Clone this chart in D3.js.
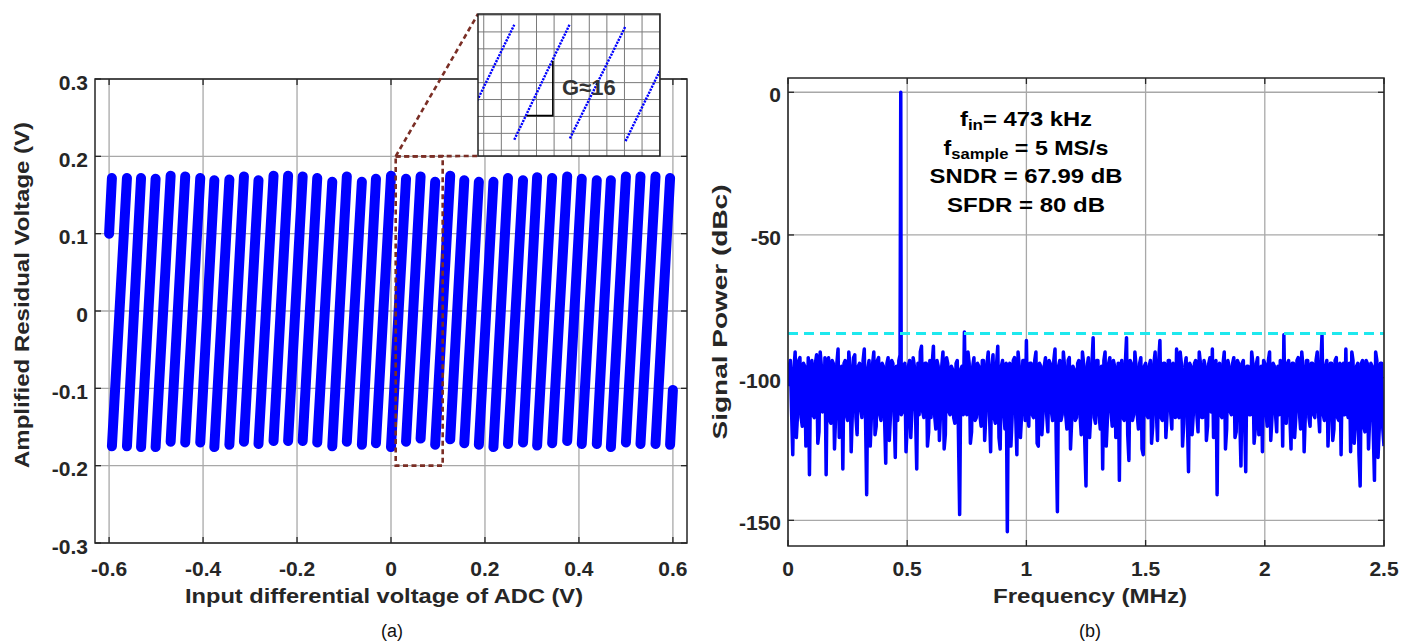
<!DOCTYPE html>
<html>
<head>
<meta charset="utf-8">
<script src="https://cdn.jsdelivr.net/npm/d3@7"></script>
<style>
  body { margin: 0; background: #fff; }
  text { font-family: "Liberation Sans", Arial, Helvetica, sans-serif; }
</style>
</head>
<body>
<div id="fig"></div>
<script>
// ---------- panel (a) : amplified residue vs input ----------
// input voltages (V) where the residue wraps from top back to bottom
var wrapV = [-0.594, -0.562, -0.532, -0.501, -0.469, -0.438, -0.406, -0.376, -0.344, -0.313,
             -0.282, -0.250, -0.219, -0.188, -0.157, -0.125, -0.094, -0.062, -0.032, 0.000,
              0.032, 0.063, 0.094, 0.126, 0.156, 0.187, 0.218, 0.249, 0.281, 0.311,
              0.343, 0.375, 0.406, 0.438, 0.468, 0.500, 0.531, 0.563, 0.594];
// residue at the start (low end) of each ramp, first and last ramps are partial
var rampLow = [0.100,
  -0.175, -0.175, -0.176, -0.176, -0.169, -0.170, -0.170, -0.176, -0.173, -0.169,
  -0.172, -0.168, -0.168, -0.168, -0.170, -0.175, -0.169, -0.173, -0.171, -0.176,
  -0.169, -0.165, -0.173, -0.166, -0.171, -0.173, -0.176, -0.172, -0.170, -0.174,
  -0.171, -0.168, -0.172, -0.172, -0.176, -0.170, -0.172, -0.172,
  -0.173];
// residue at the end (high end) of each ramp
var rampHigh = [0.172,
   0.172, 0.172, 0.171, 0.175, 0.174, 0.172, 0.169, 0.170, 0.174, 0.169,
   0.175, 0.175, 0.174, 0.172, 0.167, 0.174, 0.167, 0.171, 0.175, 0.171,
   0.174, 0.167, 0.175, 0.169, 0.167, 0.167, 0.172, 0.169, 0.173, 0.172,
   0.174, 0.171, 0.169, 0.169, 0.174, 0.174, 0.174, 0.172,
  -0.102];
var inputRange = [-0.6, 0.6];
var residueXTicks = [-0.6, -0.4, -0.2, 0, 0.2, 0.4, 0.6];
var residueYTicks = [-0.3, -0.2, -0.1, 0, 0.1, 0.2, 0.3];
var zoomWindow = {x: [0.01, 0.11], y: [-0.2, 0.2]};
var gainLabel = "G\u224816";

// ---------- panel (b) : output spectrum ----------
var binStep = 0.005; // MHz between the plotted bins, one row = 0.1 MHz
var noiseDb = [
  -103, -96, -94, -112, -127, -97, -91, -121, -113, -94, -93, -114, -117, -95, -96, -124, -112, -93, -134, -97,
  -94, -113, -114, -95, -92, -123, -119, -91, -96, -112, -111, -93, -134, -96, -93, -115, -116, -94, -95, -125,
  -113, -95, -90, -121, -118, -96, -132, -95, -94, -113, -115, -91, -96, -126, -112, -93, -92, -114, -120, -96,
  -95, -111, -114, -94, -90, -113, -141, -97, -94, -124, -113, -95, -91, -120, -117, -94, -93, -113, -115, -95,
  -96, -114, -130, -95, -93, -122, -113, -94, -95, -112, -128, -96, -115, -94, -92, -113, -112, -96, -95, -126,
  -117, -96, -94, -121, -111, -93, -96, -113, -132, -95, -113, -91, -89, -112, -114, -95, -95, -124, -119, -94,
  -114, -95, -89, -113, -118, -94, -96, -122, -112, -96, -91, -125, -120, -93, -95, -112, -113, -96, -97, -114,
  -116, -95, -94, -120, -148, -97, -96, -113, -84, -111, -113, -91, -95, -123, -119, -96, -93, -115, -114, -95,
  -96, -113, -117, -94, -94, -122, -113, -95, -91, -112, -126, -96, -92, -114, -116, -95, -89, -121, -125, -96,
  -94, -112, -118, -95, -154, -96, -95, -124, -114, -94, -93, -113, -127, -91, -96, -121, -113, -94, -94, -115,
  -87, -113, -117, -95, -95, -113, -114, -94, -91, -123, -124, -95, -96, -120, -112, -96, -93, -113, -119, -94,
  -95, -112, -115, -94, -90, -122, -147, -96, -94, -115, -113, -91, -96, -113, -118, -94, -93, -125, -115, -96,
  -97, -115, -114, -95, -94, -113, -120, -91, -95, -123, -138, -96, -93, -121, -113, -95, -86, -114, -116, -94,
  -94, -113, -118, -96, -132, -94, -91, -124, -114, -95, -93, -112, -117, -94, -96, -121, -113, -95, -136, -96,
  -94, -114, -115, -95, -86, -120, -129, -94, -95, -115, -113, -91, -96, -113, -118, -95, -93, -125, -127, -96,
  -95, -113, -114, -96, -94, -123, -117, -95, -91, -112, -122, -94, -87, -114, -115, -95, -95, -121, -113, -94,
  -94, -112, -118, -95, -96, -114, -90, -113, -114, -91, -95, -124, -116, -96, -93, -113, -133, -95, -96, -120,
  -113, -95, -94, -113, -119, -91, -95, -114, -114, -94, -96, -122, -117, -95, -93, -112, -90, -121, -115, -94,
  -141, -96, -95, -113, -114, -95, -91, -125, -118, -94, -96, -112, -113, -95, -93, -121, -119, -94, -95, -114,
  -131, -95, -94, -114, -133, -96, -96, -113, -113, -91, -95, -123, -118, -95, -93, -120, -115, -96, -126, -94,
  -95, -112, -117, -94, -91, -122, -114, -95, -96, -113, -119, -96, -113, -94, -96, -124, -85, -112, -116, -95,
  -94, -113, -125, -95, -95, -121, -114, -94, -93, -112, -118, -91, -96, -126, -113, -94, -94, -114, -117, -95,
  -95, -113, -114, -94, -91, -112, -119, -95, -85, -113, -115, -96, -94, -124, -113, -95, -95, -122, -118, -94,
  -93, -114, -115, -95, -127, -96, -95, -113, -90, -112, -114, -95, -126, -91, -94, -123, -117, -96, -95, -127,
  -138, -95, -94, -117, -119, -94, -95, -125, -114, -95, -96, -119, -136, -91, -94, -128, -118, -95, -95, -118,
  -124];
var toneFreq = 0.473;   // MHz
var tonePower = 0;      // dBc
var sfdrLine = -84.5;   // dBc
var freqTicks = [0, 0.5, 1, 1.5, 2, 2.5];
var powerTicks = [-150, -100, -50, 0];
var specNotes = [
  {main: "f", sub: "in", rest: "= 473 kHz", len: 132},
  {main: "f", sub: "sample", rest: " = 5 MS/s", len: 165},
  {main: "SNDR = 67.99 dB", sub: "", rest: "", len: 193},
  {main: "SFDR = 80 dB", sub: "", rest: "", len: 158}
];

var ink = "#262626";
var gridCol = "#a8a8a8";
var blue = "#0000ff";

var svg = d3.select("#fig").append("svg")
    .attr("width", 1406)
    .attr("height", 641)
    .style("background", "#fff");

function fmt(d) {
  return d === 0 ? "0" : String(+d.toFixed(2));
}

// grid, inward ticks and box for one axes
function frame(g, xs, ys, xt, yt, tick) {
  var l = xs.range()[0], r = xs.range()[1], b = ys.range()[0], t = ys.range()[1];
  g.selectAll(null).data(xt).enter().append("line")
    .attr("x1", d => xs(d)).attr("x2", d => xs(d))
    .attr("y1", t).attr("y2", b)
    .attr("stroke", gridCol).attr("stroke-width", 1.3);
  g.selectAll(null).data(yt).enter().append("line")
    .attr("x1", l).attr("x2", r)
    .attr("y1", d => ys(d)).attr("y2", d => ys(d))
    .attr("stroke", gridCol).attr("stroke-width", 1.3);
  xt.forEach(function (d) {
    g.append("line").attr("x1", xs(d)).attr("x2", xs(d)).attr("y1", b).attr("y2", b - tick)
      .attr("stroke", ink).attr("stroke-width", 1.3);
    g.append("line").attr("x1", xs(d)).attr("x2", xs(d)).attr("y1", t).attr("y2", t + tick)
      .attr("stroke", ink).attr("stroke-width", 1.3);
  });
  yt.forEach(function (d) {
    g.append("line").attr("x1", l).attr("x2", l + tick).attr("y1", ys(d)).attr("y2", ys(d))
      .attr("stroke", ink).attr("stroke-width", 1.3);
    g.append("line").attr("x1", r).attr("x2", r - tick).attr("y1", ys(d)).attr("y2", ys(d))
      .attr("stroke", ink).attr("stroke-width", 1.3);
  });
}

function box(g, xs, ys, col, w) {
  g.append("rect")
    .attr("x", xs.range()[0]).attr("y", ys.range()[1])
    .attr("width", xs.range()[1] - xs.range()[0])
    .attr("height", ys.range()[0] - ys.range()[1])
    .attr("fill", "none").attr("stroke", col).attr("stroke-width", w);
}

function tickLabels(g, xs, ys, xt, yt, xBase, yDy) {
  g.selectAll(null).data(xt).enter().append("text")
    .attr("x", d => xs(d)).attr("y", xBase)
    .attr("text-anchor", "middle")
    .attr("font-size", 21).attr("font-weight", "bold").attr("fill", ink)
    .text(fmt);
  g.selectAll(null).data(yt).enter().append("text")
    .attr("x", xs.range()[0] - 7).attr("y", d => ys(d))
    .attr("dy", yDy)
    .attr("text-anchor", "end")
    .attr("font-size", 21).attr("font-weight", "bold").attr("fill", ink)
    .text(fmt);
}

// ================= panel (a) =================
var ga = svg.append("g");
var x = d3.scaleLinear().domain([-0.63, 0.63]).range([95, 687]);
var y = d3.scaleLinear().domain([-0.3, 0.3]).range([543, 79]);

frame(ga, x, y, residueXTicks, residueYTicks, 6);

var rampFrom = [inputRange[0]].concat(wrapV);
var rampTo = wrapV.concat([inputRange[1]]);
var ramps = rampFrom.map(function (v, i) {
  return {x0: v, x1: rampTo[i], y0: rampLow[i], y1: rampHigh[i]};
});

ga.selectAll(".ramp").data(ramps).enter().append("line")
  .attr("class", "ramp")
  .attr("x1", d => x(d.x0)).attr("y1", d => y(d.y0))
  .attr("x2", d => x(d.x1)).attr("y2", d => y(d.y1))
  .attr("stroke", blue).attr("stroke-width", 10)
  .attr("stroke-linecap", "round");

box(ga, x, y, ink, 1.5);
tickLabels(ga, x, y, residueXTicks, residueYTicks, 576, "0.5em");

ga.append("text")
  .attr("x", 384).attr("y", 603)
  .attr("text-anchor", "middle")
  .attr("font-size", 21).attr("font-weight", "bold").attr("fill", ink)
  .attr("textLength", 398).attr("lengthAdjust", "spacingAndGlyphs")
  .text("Input differential voltage of ADC (V)");

ga.append("text")
  .attr("transform", "translate(29,295) rotate(-90)")
  .attr("text-anchor", "middle")
  .attr("font-size", 21).attr("font-weight", "bold").attr("fill", ink)
  .attr("textLength", 346).attr("lengthAdjust", "spacingAndGlyphs")
  .text("Amplified Residual Voltage (V)");

ga.append("text")
  .attr("x", 392).attr("y", 637)
  .attr("text-anchor", "middle")
  .attr("font-size", 18).attr("fill", "#111")
  .text("(a)");

// zoom window and connectors
var brown = "#7a2e25";
var zx0 = x(zoomWindow.x[0]), zx1 = x(zoomWindow.x[1]);
var zy0 = y(zoomWindow.y[1]), zy1 = y(zoomWindow.y[0]);
var inL = 478, inR = 660, inT = 14, inB = 156;

ga.append("rect")
  .attr("x", zx0).attr("y", zy0)
  .attr("width", zx1 - zx0).attr("height", zy1 - zy0)
  .attr("fill", "none").attr("stroke", brown).attr("stroke-width", 2.6)
  .attr("stroke-dasharray", "5,3.5");
ga.append("line")
  .attr("x1", zx0).attr("y1", zy0).attr("x2", inL).attr("y2", inT)
  .attr("stroke", brown).attr("stroke-width", 2.6).attr("stroke-dasharray", "5,3.5");
ga.append("line")
  .attr("x1", zx0).attr("y1", zy0).attr("x2", inL).attr("y2", inB)
  .attr("stroke", brown).attr("stroke-width", 2.6).attr("stroke-dasharray", "5,3.5");

// inset
var gi = svg.append("g");
var ix = d3.scaleLinear().domain([0.0118, 0.1132]).range([inL, inR]);
var iy = d3.scaleLinear().domain([-0.217, 0.203]).range([inB, inT]);
gi.append("rect").attr("x", inL).attr("y", inT).attr("width", inR - inL).attr("height", inB - inT)
  .attr("fill", "#fff");
var insetGridX = d3.range(0.015, 0.1135, 0.0098);
var insetGridY = d3.range(-0.2, 0.201, 0.05);
gi.selectAll(null).data(insetGridX).enter().append("line")
  .attr("x1", d => ix(d)).attr("x2", d => ix(d)).attr("y1", inT).attr("y2", inB)
  .attr("stroke", "#7a7a7a").attr("stroke-width", 1);
gi.selectAll(null).data(insetGridY).enter().append("line")
  .attr("x1", inL).attr("x2", inR).attr("y1", d => iy(d)).attr("y2", d => iy(d))
  .attr("stroke", "#7a7a7a").attr("stroke-width", 1);
gi.append("clipPath").attr("id", "insetClip").append("rect")
  .attr("x", inL).attr("y", inT).attr("width", inR - inL).attr("height", inB - inT);
gi.append("g").attr("clip-path", "url(#insetClip)")
  .selectAll("line").data(ramps).enter().append("line")
  .attr("x1", d => ix(d.x0)).attr("y1", d => iy(d.y0))
  .attr("x2", d => ix(d.x1)).attr("y2", d => iy(d.y1))
  .attr("stroke", blue).attr("stroke-width", 2.4)
  .attr("stroke-dasharray", "2.2,1.1");
// gain triangle
var tri = [[0.0391, -0.0976], [0.0535, -0.0976], [0.0535, 0.064]];
gi.append("path")
  .attr("d", d3.line().x(d => ix(d[0])).y(d => iy(d[1]))(tri))
  .attr("fill", "none").attr("stroke", "#000").attr("stroke-width", 1.6);
gi.append("text")
  .attr("x", 562).attr("y", 95)
  .attr("font-size", 22).attr("font-weight", "bold").attr("fill", "#333")
  .text(gainLabel);
box(gi, ix, iy, "#222", 1.5);

// ================= panel (b) =================
var gb = svg.append("g");
var fx = d3.scaleLinear().domain([0, 2.5]).range([788, 1384]);
var py = d3.scaleLinear().domain([-159, 5]).range([546, 78]);

frame(gb, fx, py, freqTicks, powerTicks, 6);

var spectrum = noiseDb.map(function (p, i) { return [i * binStep, p]; });
spectrum.push([toneFreq, tonePower]);
spectrum.sort(function (a, b) { return a[0] - b[0]; });

gb.append("clipPath").attr("id", "specClip").append("rect")
  .attr("x", 788).attr("y", 78).attr("width", 596).attr("height", 468);

gb.append("path")
  .attr("clip-path", "url(#specClip)")
  .attr("d", d3.line().x(d => fx(d[0])).y(d => py(d[1]))(spectrum))
  .attr("fill", "none").attr("stroke", blue).attr("stroke-width", 3.5)
  .attr("stroke-linejoin", "round");

gb.append("line")
  .attr("x1", fx(0)).attr("x2", fx(2.5))
  .attr("y1", py(sfdrLine)).attr("y2", py(sfdrLine))
  .attr("stroke", "#1ee8ee").attr("stroke-width", 3)
  .attr("stroke-dasharray", "10,6");

box(gb, fx, py, ink, 1.5);
tickLabels(gb, fx, py, freqTicks, powerTicks, 576, "0.47em");

var notes = gb.selectAll(".note").data(specNotes).enter().append("text")
  .attr("class", "note")
  .attr("x", 1026).attr("y", (d, i) => 126 + i * 28.5)
  .attr("text-anchor", "middle")
  .attr("font-size", 21).attr("font-weight", "bold").attr("fill", "#000")
  .attr("textLength", d => d.len).attr("lengthAdjust", "spacingAndGlyphs");
notes.append("tspan").text(d => d.main);
notes.filter(d => d.sub).append("tspan")
  .attr("dy", 4).attr("font-size", 15).text(d => d.sub);
notes.filter(d => d.sub).append("tspan")
  .attr("dy", -4).text(d => d.rest);

gb.append("text")
  .attr("x", 1090).attr("y", 603)
  .attr("text-anchor", "middle")
  .attr("font-size", 21).attr("font-weight", "bold").attr("fill", ink)
  .attr("textLength", 194).attr("lengthAdjust", "spacingAndGlyphs")
  .text("Frequency (MHz)");

gb.append("text")
  .attr("transform", "translate(727,312) rotate(-90)")
  .attr("text-anchor", "middle")
  .attr("font-size", 21).attr("font-weight", "bold").attr("fill", ink)
  .attr("textLength", 255).attr("lengthAdjust", "spacingAndGlyphs")
  .text("Signal Power (dBc)");

gb.append("text")
  .attr("x", 1090).attr("y", 637)
  .attr("text-anchor", "middle")
  .attr("font-size", 18).attr("fill", "#111")
  .text("(b)");
</script>
</body>
</html>
